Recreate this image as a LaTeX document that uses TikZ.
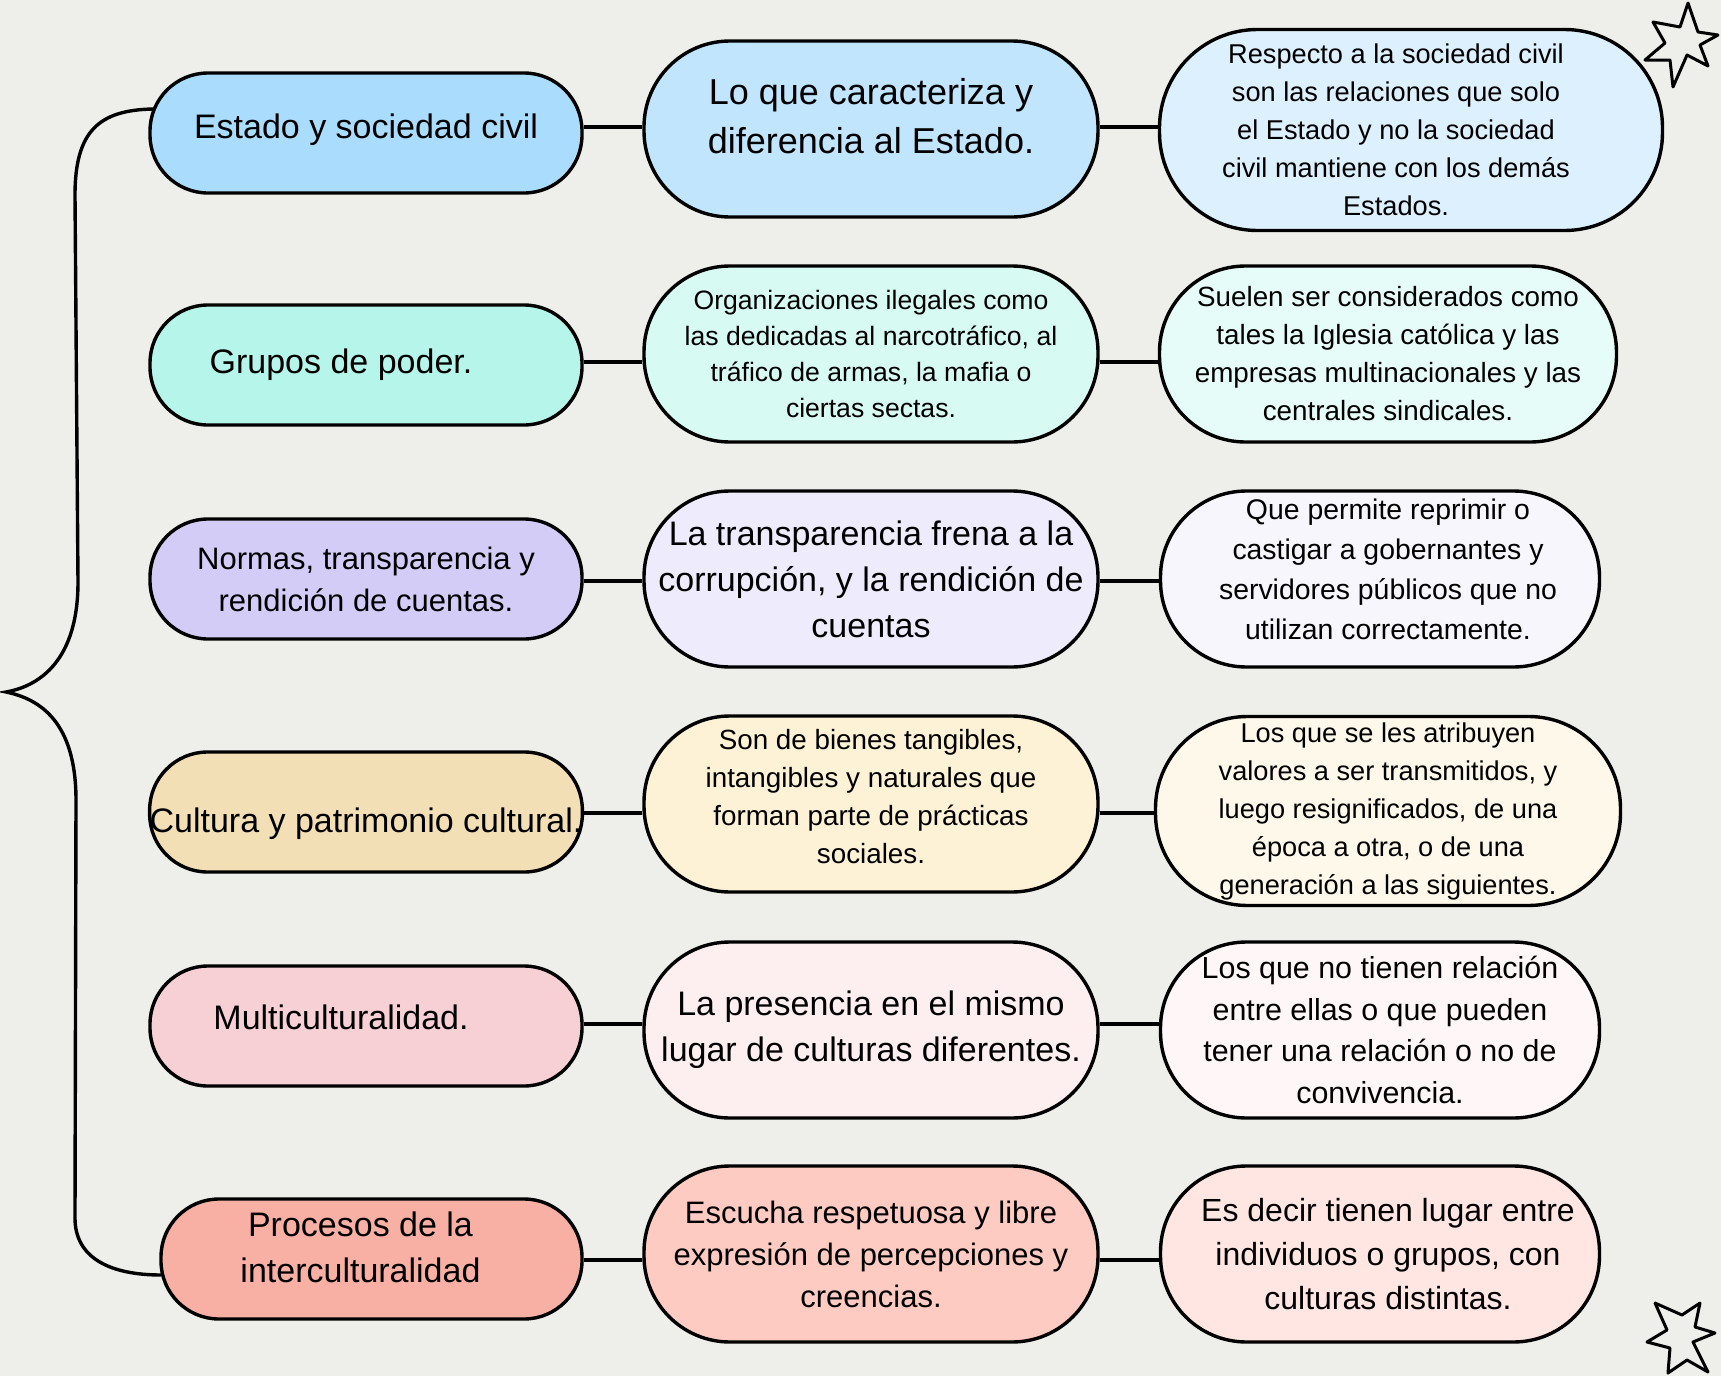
\documentclass[tikz,border=0pt]{standalone}
\usepackage{fontspec}
\setmainfont{Liberation Sans}
\usepackage{tikz}
\usetikzlibrary{calc}
\definecolor{bgcolor}{HTML}{EEEFEA}
\definecolor{azulA}{HTML}{A9DCFD}
\definecolor{azulB}{HTML}{C0E5FD}
\definecolor{azulC}{HTML}{DDF0FD}
\definecolor{mentaA}{HTML}{B6F5EA}
\definecolor{mentaB}{HTML}{D7FBF3}
\definecolor{mentaC}{HTML}{E6FCF8}
\definecolor{lilaA}{HTML}{D2CCF6}
\definecolor{lilaB}{HTML}{EEECFC}
\definecolor{lilaC}{HTML}{F7F6FD}
\definecolor{arenaA}{HTML}{F3DFB6}
\definecolor{arenaB}{HTML}{FDF1D6}
\definecolor{arenaC}{HTML}{FEF8EB}
\definecolor{rosaA}{HTML}{F7D0D6}
\definecolor{rosaB}{HTML}{FDEEF0}
\definecolor{rosaC}{HTML}{FEF6F7}
\definecolor{salmonA}{HTML}{F8B0A4}
\definecolor{salmonB}{HTML}{FDCBC2}
\definecolor{salmonC}{HTML}{FFE6E2}
\newcommand{\txtsize}[2]{\fontsize{#1}{#2}\selectfont}
\newcommand{\toleft}[1]{\mbox{#1\hspace{15pt}}}
\newcommand{\toright}[1]{\mbox{\hspace{8pt}#1}}
\tikzstyle{pill} = [draw=black, line width=1.7pt, rectangle, align=center, inner sep=0pt]
\tikzstyle{tema} = [pill, minimum width=216pt, minimum height=60pt, rounded corners=29pt, font=\txtsize{17}{23}]
\tikzstyle{idea} = [pill, minimum width=227pt, minimum height=88pt, rounded corners=43pt]
\tikzstyle{nota} = [pill, minimum height=88pt, rounded corners=43pt]
\tikzstyle{enlace} = [line width=1.7pt]

\begin{document}
\begin{tikzpicture}[x=0.5pt, y=-0.5pt]
  \useasboundingbox (0,0) rectangle (1721,1376);
  \fill[bgcolor] (0,0) rectangle (1721,1376);

  % left column
  \node[tema, fill=azulA, text depth=7pt] (l1) at (366,133) {Estado y sociedad civil};
  \node[tema, fill=mentaA] (l2) at (366,365) {Grupos de poder.\hspace*{25pt}};
  \node[tema, fill=lilaA, font=\txtsize{15.5}{21}] (l3) at (366,579) {Normas, transparencia y\\rendición de cuentas.};
  \node[tema, fill=arenaA, text height=24pt] (l4) at (366,812) {Cultura y patrimonio cultural.};
  \node[tema, fill=rosaA, text depth=9pt] (l5) at (366,1026) {Multiculturalidad.\hspace*{25pt}};
  \node[tema, fill=salmonA, minimum width=210.5pt, text depth=12pt] (l6) at (371.5,1259) {Procesos de la\hspace*{11pt}\\interculturalidad\hspace*{11pt}};

  % middle column
  \node[idea, fill=azulB, font=\txtsize{18}{24.5}, text depth=12.6pt] (m1) at (871,129) {Lo que caracteriza y\\diferencia al Estado.};
  \node[idea, fill=mentaB, font=\txtsize{13.3}{18}] (m2) at (871,354) {Organizaciones ilegales como\\las dedicadas al narcotráfico, al\\tráfico de armas, la mafia o\\ciertas sectas.};
  \node[idea, fill=lilaB, font=\txtsize{17}{23}] (m3) at (871,579) {La transparencia frena a la\\corrupción, y la rendición de\\cuentas};
  \node[idea, fill=arenaB, font=\txtsize{13.9}{19}, text depth=7.7pt] (m4) at (871,804) {Son de bienes tangibles,\\intangibles y naturales que\\forman parte de prácticas\\sociales.};
  \node[idea, fill=rosaB, font=\txtsize{17}{23}, text depth=3.5pt] (m5) at (871,1030) {La presencia en el mismo\\lugar de culturas diferentes.};
  \node[idea, fill=salmonB, font=\txtsize{15.5}{21}] (m6) at (871,1254) {Escucha respetuosa y libre\\expresión de percepciones y\\creencias.};

  % right column
  \node[nota, fill=azulC, minimum width=251.5pt, minimum height=100.5pt, rounded corners=49pt, font=\txtsize{13.6}{19}] (r1) at (1411,130) {\toleft{Respecto a la sociedad civil}\\\toleft{son las relaciones que solo}\\\toleft{el Estado y no la sociedad}\\\toleft{civil mantiene con los demás}\\\toleft{Estados.}};
  \node[nota, fill=mentaC, minimum width=228.5pt, font=\txtsize{13.9}{19}] (r2) at (1388,354) {Suelen ser considerados como\\tales la Iglesia católica y las\\empresas multinacionales y las\\centrales sindicales.};
  \node[nota, fill=lilaC, minimum width=219.5pt, font=\txtsize{14.2}{20}, text depth=10pt] (r3) at (1380,579) {\toright{Que permite reprimir o}\\\toright{castigar a gobernantes y}\\\toright{servidores públicos que no}\\\toright{utilizan correctamente.}};
  \node[nota, fill=arenaC, minimum width=232.5pt, minimum height=94.5pt, rounded corners=46pt, font=\txtsize{13.6}{19}] (r4) at (1388,811) {Los que se les atribuyen\\valores a ser transmitidos, y\\luego resignificados, de una\\época a otra, o de una\\generación a las siguientes.};
  \node[nota, fill=rosaC, minimum width=219.5pt, font=\txtsize{15.2}{20.7}] (r5) at (1380,1030) {Los que no tienen relación\\entre ellas o que pueden\\tener una relación o no de\\convivencia.};
  \node[nota, fill=salmonC, minimum width=219.5pt, font=\txtsize{16}{22}] (r6) at (1380,1254) {\toright{Es decir tienen lugar entre}\\\toright{individuos o grupos, con}\\\toright{culturas distintas.}};

  % links
  \foreach \i/\y in {1/127,2/362,3/581,4/813,5/1024,6/1260} {
    \draw[enlace] (l\i.east |- 0,\y) -- (m\i.west |- 0,\y);
    \draw[enlace] (m\i.east |- 0,\y) -- (r\i.west |- 0,\y);
  }

  % brace
  \draw[enlace] ([xshift=2.5pt, yshift=12pt]l1.west) .. controls (100,110) and (75,130) .. (75,195)
    -- (78,582) .. controls (78,660) and (40,686) .. (6,692)
    .. controls (40,699) and (76,722) .. (76,800)
    -- (75,1218) .. controls (75,1258) and (110,1275) .. ([xshift=1pt, yshift=-8pt]l6.west);

  % stars
  \draw[line width=1.5pt, line join=round, fill=bgcolor] (1653,22) -- (1680,27) -- (1688,3) -- (1698,32)
    -- (1718,35) -- (1700,45) -- (1708,66) -- (1687,55) -- (1673,87) -- (1670,60) -- (1645,60) -- (1665,43) -- cycle;
  \draw[line width=1.5pt, line join=round, fill=bgcolor] (1655,1303) -- (1682,1315) -- (1700,1303) -- (1695,1327)
    -- (1715,1333) -- (1693,1342) -- (1708,1372) -- (1687,1360) -- (1668,1373) -- (1670,1348) -- (1647,1342) -- (1667,1330) -- cycle;
\end{tikzpicture}
\end{document}
